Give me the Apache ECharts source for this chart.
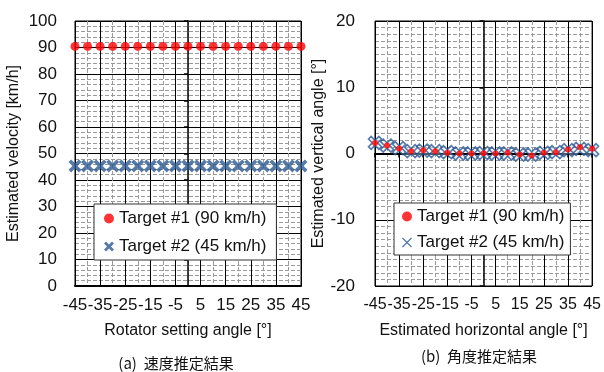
<!DOCTYPE html>
<html>
<head>
<meta charset="utf-8">
<script src="https://cdn.jsdelivr.net/npm/echarts@6/dist/echarts.min.js"></script>
<style>html,body{margin:0;padding:0;background:#fff}#c{width:604px;height:372px}</style>
</head>
<body>
<div id="c"></div>
<script>
// ---- data ----
const rotatorAngle = [-45,-40,-35,-30,-25,-20,-15,-10,-5,0,5,10,15,20,25,30,35,40,45];
const velTarget1 = [90.4,90.4,90.4,90.4,90.4,90.4,90.4,90.4,90.4,90.4,90.4,90.4,90.4,90.4,90.4,90.4,90.4,90.4,90.4];
const velTarget2 = [45.3,45.3,45.3,45.3,45.3,45.3,45.3,45.3,45.3,45.3,45.3,45.3,45.3,45.3,45.3,45.3,45.3,45.3,45.3];
const hAngleTarget1 = [-45,-40,-35,-30,-25,-20,-15,-10,-5,0,5,10,15,20,25,30,35,40,45];
const vAngleTarget1 = [1.6,1.2,0.75,0.35,0.5,0.35,0.1,0,0,0.05,0,0.1,-0.15,-0.3,0.1,0.2,0.6,0.95,0.7];
const hAngleTarget2 = [-45,-40,-35,-30,-25,-20,-15,-10,-5,0,5,10,15,20,25,30,35,40,45];
const vAngleTarget2 = [1.6,1.2,0.8,0.35,0.45,0.35,0.2,0,0,0.05,0,0,-0.15,-0.15,0.1,0.2,0.5,0.7,0.5];
const seriesNames = ['Target #1 (90 km/h)', 'Target #2 (45 km/h)'];
const xTitleA = 'Rotator setting angle [°]';
const yTitleA = 'Estimated velocity [km/h]';
const xTitleB = 'Estimated horizontal angle [°]';
const yTitleB = 'Estimated vertical angle [°]';
const captionA = '(a)  速度推定結果';
const captionB = '(b)  角度推定結果';

const FONT = '"Liberation Sans", Arial, sans-serif';
const CJK = '"Noto Sans CJK JP", sans-serif';
const RED = '#ff0000';
const BLUE = '#2d5a92';
const CROSS = 'path://M0,2L2,0L5,3L8,0L10,2L7,5L10,8L8,10L5,7L2,10L0,8L3,5Z';

function pairs(xs, ys){ return xs.map((x,i)=>[x, ys[i]]); }

function mainX(grid, name, labelSize){
  return {
    type:'value', gridIndex:grid, min:-45, max:45, interval:10, position:'bottom',
    axisLine:{show: grid===0, onZero:false, lineStyle:{color:'#000', width:2}},
    axisTick:{show:false},
    axisLabel:{color:'#111', fontFamily:FONT, fontSize:labelSize, margin:11},
    splitLine:{show:true, lineStyle:{color:'#000', width:1}},
    minorTick:{show:false, splitNumber:2},
    minorSplitLine:{show:true, lineStyle:{color:'#9a9a9a', width:1, type:[4,2]}},
    name:name, nameLocation:'middle', nameGap:37,
    nameTextStyle:{color:'#111', fontFamily:FONT, fontSize:16}
  };
}
function mainY(grid, min, max, minorSplit, name, nameGap, margin){
  return {
    type:'value', gridIndex:grid, min:min, max:max, interval:10, position:'left',
    axisLine:{show:false, onZero:false},
    axisTick:{show:false},
    axisLabel:{color:'#111', fontFamily:FONT, fontSize:17, margin:margin},
    splitLine:{show:true, lineStyle:{color:'#000', width:1}},
    minorTick:{show:false, splitNumber:minorSplit},
    minorSplitLine:{show:true, lineStyle:{color:'#9a9a9a', width:1, type:[4,2]}},
    name:name, nameLocation:'middle', nameGap:nameGap,
    nameTextStyle:{color:'#111', fontFamily:FONT, fontSize:16}
  };
}
function zeroY(grid, min, max){
  return {
    type:'value', gridIndex:grid, min:min, max:max, interval:10, position:'left',
    axisLine:{show:true, onZero:true, lineStyle:{color:'#000', width:1.5}},
    axisTick:{show:true, length:4, lineStyle:{color:'#000', width:1.5}},
    axisLabel:{show:false}, splitLine:{show:false}
  };
}

const option = {
  animation:false,
  backgroundColor:'#fff',
  grid:[
    {left:75, top:21, width:226, height:265, show:true, borderColor:'#000', borderWidth:1, backgroundColor:'#fff'},
    {left:375, top:21, width:219, height:265, show:true, borderColor:'#000', borderWidth:1, backgroundColor:'#fff'}
  ],
  xAxis:[
    mainX(0, xTitleA, 17),
    mainX(1, xTitleB, 16),
    {
      type:'value', gridIndex:1, min:-45, max:45, interval:10, position:'bottom',
      axisLine:{show:true, onZero:true, lineStyle:{color:'#000', width:2}},
      axisTick:{show:true, length:4, lineStyle:{color:'#000', width:1.5}},
      axisLabel:{show:false}, splitLine:{show:false}
    }
  ],
  yAxis:[
    mainY(0, 0, 100, 5, yTitleA, 53, 18),
    zeroY(0, 0, 100),
    mainY(1, -20, 20, 10, yTitleB, 45, 20),
    zeroY(1, -20, 20)
  ],
  legend:[
    {
      orient:'vertical', left:94, top:204, itemGap:11, itemWidth:10, itemHeight:10,
      padding:[6,10,5,10], backgroundColor:'#fff', borderColor:'#333', borderWidth:1,
      textStyle:{color:'#111', fontFamily:FONT, fontSize:17},
      data:[
        {name:seriesNames[0], icon:'circle', itemStyle:{color:RED}},
        {name:seriesNames[1], icon:CROSS, itemStyle:{color:BLUE}}
      ]
    },
    {
      orient:'vertical', left:394, top:203, itemGap:9, itemWidth:10, itemHeight:10,
      padding:[5,6,4,8], backgroundColor:'#fff', borderColor:'#333', borderWidth:1,
      textStyle:{color:'#111', fontFamily:FONT, fontSize:17},
      data:[
        {name:seriesNames[0], icon:'circle', itemStyle:{color:RED}},
        {name:seriesNames[1], icon:'path://M0,0.9L0.9,0L5,4.1L9.1,0L10,0.9L5.9,5L10,9.1L9.1,10L5,5.9L0.9,10L0,9.1L4.1,5Z', itemStyle:{color:BLUE}}
      ]
    }
  ],
  series:[
    {type:'scatter', name:seriesNames[0], xAxisIndex:0, yAxisIndex:0, symbol:'circle', symbolSize:9,
     itemStyle:{color:RED}, data:pairs(rotatorAngle, velTarget1), z:5},
    {type:'scatter', name:seriesNames[1], xAxisIndex:0, yAxisIndex:0, symbol:CROSS, symbolSize:13,
     itemStyle:{color:BLUE}, data:pairs(rotatorAngle, velTarget2), z:5},
    {type:'scatter', name:seriesNames[1], xAxisIndex:1, yAxisIndex:2, symbol:CROSS, symbolSize:13,
     itemStyle:{color:'rgba(220,230,245,0.5)', borderColor:BLUE, borderWidth:1.6}, data:pairs(hAngleTarget2, vAngleTarget2), z:5},
    {type:'scatter', name:seriesNames[0], xAxisIndex:1, yAxisIndex:2, symbol:'circle', symbolSize:6,
     itemStyle:{color:RED}, data:pairs(hAngleTarget1, vAngleTarget1), z:6}
  ],
  graphic:[
    {type:'text', x:176, y:363, style:{text:captionA, x:0, y:0, align:'center', verticalAlign:'middle', fontFamily:CJK, fontSize:15, fill:'#111'}},
    {type:'text', x:479, y:356, style:{text:captionB, x:0, y:0, align:'center', verticalAlign:'middle', fontFamily:CJK, fontSize:15, fill:'#111'}}
  ]
};
const chart = echarts.init(document.getElementById('c'), null, {renderer:'canvas'});
chart.setOption(option);
</script>
</body>
</html>
